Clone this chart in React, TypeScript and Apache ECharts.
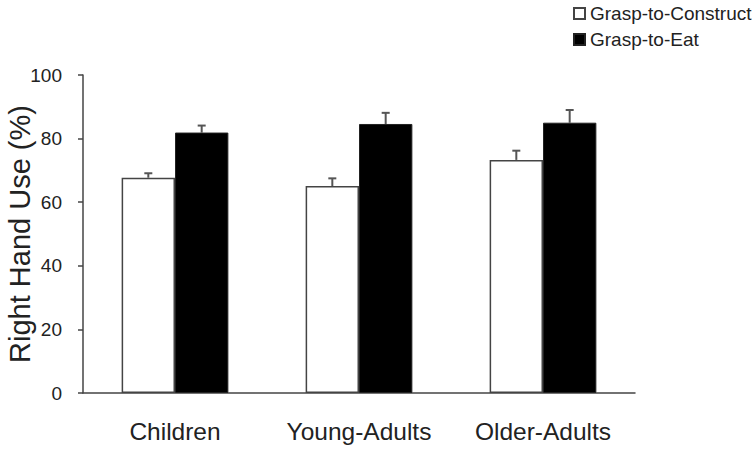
import React, { useEffect, useRef } from "react";
import * as echarts from "echarts";

const categories = ["Children", "Young-Adults", "Older-Adults"];
const constructValues = [67.7, 65.1, 73.3];
const constructErrors = [1.4, 2.4, 2.9];
const eatValues = [81.9, 84.6, 85.0];
const eatErrors = [2.2, 3.5, 4.0];
const seriesNames = ["Grasp-to-Construct", "Grasp-to-Eat"];
const yTicks = { min: 0, max: 100, interval: 20 };

const FONT = "'Liberation Sans', Arial, sans-serif";
const BAR_FRAC = 0.29;

export default function App() {
  const ref = useRef<HTMLDivElement>(null);
  useEffect(() => {
    if (!ref.current) return;
    const chart = echarts.init(ref.current, null, { renderer: "svg" });

    const makeErr = (values: number[], errs: number[], side: number) => ({
      type: "custom",
      silent: true,
      z: 1,
      data: values.map((v, i) => [i, v, v + errs[i]]),
      renderItem: (params: any, api: any) => {
        const idx = api.value(0);
        const base = api.coord([idx, api.value(1)]);
        const top = api.coord([idx, api.value(2)]);
        const bw = api.size([1, 0])[0] * BAR_FRAC;
        const x = base[0] + (side * bw) / 2;
        const style = { stroke: "#555", lineWidth: 2 };
        return {
          type: "group",
          children: [
            { type: "line", shape: { x1: x, y1: base[1], x2: x, y2: top[1] }, style },
            { type: "line", shape: { x1: x - 4, y1: top[1], x2: x + 4, y2: top[1] }, style },
          ],
        };
      },
    });

    chart.setOption({
      animation: false,
      textStyle: { fontFamily: FONT },
      legend: {
        orient: "vertical",
        left: 568,
        top: -1,
        itemWidth: 11,
        itemHeight: 11,
        itemGap: 7,
        icon: "rect",
        textStyle: { fontSize: 19, color: "#222", fontFamily: FONT, lineHeight: 19 },
        data: seriesNames,
      },
      grid: { left: 83, top: 75, width: 552, height: 318, containLabel: false, outerBoundsMode: "none" },
      xAxis: {
        type: "category",
        data: categories,
        axisLine: { lineStyle: { color: "#444", width: 1.5 } },
        axisTick: { show: false },
        axisLabel: { interval: 0, fontSize: 24.5, color: "#222", margin: 26, lineHeight: 25, fontFamily: FONT },
      },
      yAxis: {
        type: "value",
        min: yTicks.min,
        max: yTicks.max,
        interval: yTicks.interval,
        name: "Right Hand Use (%)",
        nameLocation: "middle",
        nameGap: 49,
        nameMoveOverlap: false,
        nameTextStyle: { fontSize: 29, color: "#222", fontFamily: FONT },
        axisLine: { show: true, lineStyle: { color: "#444", width: 1.5 } },
        axisTick: { show: true, inside: false, length: 5, lineStyle: { color: "#444", width: 1.5 } },
        splitLine: { show: false },
        axisLabel: { fontSize: 19, color: "#222", margin: 21, fontFamily: FONT },
      },
      series: [
        {
          name: seriesNames[0],
          type: "bar",
          data: constructValues,
          barWidth: BAR_FRAC * 100 + "%",
          barGap: "0%",
          z: 2,
          itemStyle: { color: "#ffffff", borderColor: "#444", borderWidth: 1.5 },
        },
        {
          name: seriesNames[1],
          type: "bar",
          data: eatValues,
          barWidth: BAR_FRAC * 100 + "%",
          barGap: "0%",
          z: 2,
          itemStyle: { color: "#000000", borderColor: "#222", borderWidth: 1 },
        },
        makeErr(constructValues, constructErrors, -1),
        makeErr(eatValues, eatErrors, 1),
      ],
    });
    return () => chart.dispose();
  }, []);
  return <div ref={ref} style={{ width: 756, height: 449, position: "absolute", left: 0, top: 0 }} />;
}
